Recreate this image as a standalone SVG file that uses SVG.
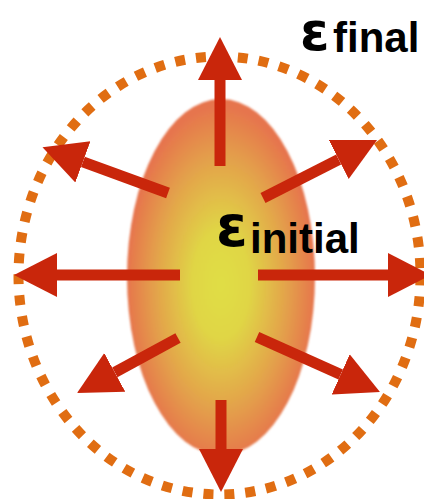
<svg xmlns="http://www.w3.org/2000/svg" width="424" height="499" viewBox="0 0 424 499">
<style>
.arrow{stroke:#c9260b;stroke-width:11;fill:none;stroke-linecap:butt;marker-end:url(#head)}
.lbl{font-family:"Liberation Sans",Arial,sans-serif;font-weight:bold;fill:#000}
.eps{font-family:"DejaVu Sans",sans-serif;font-weight:bold;fill:#000}
</style>
<defs>
<radialGradient id="blob" cx="0.5" cy="0.52" r="0.5">
<stop offset="0" stop-color="#e0de44"/>
<stop offset="0.3" stop-color="#e0d645"/>
<stop offset="0.7" stop-color="#e3a24b"/>
<stop offset="1" stop-color="#e6754d"/>
</radialGradient>
<filter id="soft" x="-10%" y="-10%" width="120%" height="120%">
<feGaussianBlur stdDeviation="1.2"/>
</filter>
<marker id="head" markerUnits="userSpaceOnUse" markerWidth="46" markerHeight="46" refX="0" refY="23" orient="auto" viewBox="0 0 46 46">
<path d="M0,1 L43,23 L0,45 z" fill="#c9260b"/>
</marker>
</defs>
<rect width="424" height="499" fill="#fff"/>
<g id="final-boundary">
<ellipse cx="219.5" cy="275.5" rx="201" ry="219" fill="none" stroke="#e06d12" stroke-width="10" stroke-dasharray="10 11"/>
</g>
<g id="initial-blob">
<ellipse cx="221" cy="277" rx="94" ry="178" fill="url(#blob)" filter="url(#soft)"/>
</g>
<g id="connectors">
<line class="arrow" x1="220" y1="166" x2="220" y2="80"/>
<line class="arrow" x1="221" y1="400" x2="221" y2="449"/>
<line class="arrow" x1="180" y1="275" x2="57" y2="275"/>
<line class="arrow" x1="258" y1="275" x2="388" y2="275"/>
<line class="arrow" x1="168" y1="193" x2="82.9" y2="161.9"/>
<line class="arrow" x1="263" y1="198" x2="338.7" y2="159.5"/>
<line class="arrow" x1="178" y1="338" x2="114.8" y2="372.4"/>
<line class="arrow" x1="257" y1="337" x2="340.7" y2="374.4"/>
</g>
<g id="label-final">
<text class="eps" x="300" y="49.5" font-size="53">ε</text>
<text class="lbl" x="333" y="52" font-size="42">final</text>
</g>
<g id="label-initial">
<text class="eps" x="216" y="246" font-size="57">ε</text>
<text class="lbl" x="250" y="253" font-size="42">initial</text>
</g>
</svg>
